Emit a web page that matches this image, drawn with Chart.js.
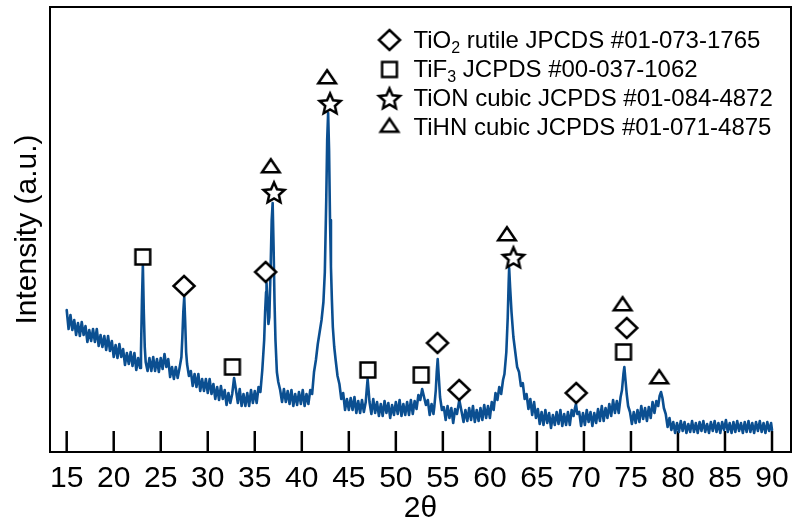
<!DOCTYPE html>
<html><head><meta charset="utf-8">
<script src="https://cdn.jsdelivr.net/npm/chart.js@4.4.1/dist/chart.umd.min.js"></script>
<style>html,body{margin:0;padding:0;background:#fff;}#wrap{width:794px;height:527px;}</style>
</head><body><div id="wrap"><canvas id="c" width="794" height="527"></canvas></div>
<script>
// ---- data ----
const twoTheta = [
15.0,15.2,15.4,15.6,15.8,16.0,16.2,16.4,16.6,16.8,
17.0,17.2,17.4,17.6,17.8,18.0,18.2,18.4,18.6,18.8,
19.0,19.2,19.4,19.6,19.8,20.0,20.2,20.4,20.6,20.8,
21.0,21.2,21.4,21.6,21.8,22.0,22.2,22.4,22.6,22.8,
22.9,23.0,23.1,23.2,23.3,23.4,23.6,23.8,24.0,24.2,
24.4,24.6,24.8,25.0,25.2,25.4,25.6,25.8,26.0,26.2,
26.4,26.6,26.8,27.0,27.2,27.3,27.4,27.5,27.6,27.7,
27.8,28.0,28.2,28.4,28.6,28.8,29.0,29.2,29.4,29.6,
29.8,30.0,30.2,30.4,30.6,30.8,31.0,31.2,31.4,31.6,
31.8,32.0,32.2,32.4,32.6,32.8,33.0,33.2,33.4,33.6,
33.8,34.0,34.2,34.4,34.6,34.8,35.0,35.2,35.4,35.6,
35.8,36.0,36.1,36.2,36.25,36.35,36.45,36.55,36.7,36.8,
36.9,37.0,37.1,37.2,37.35,37.5,37.7,37.9,38.1,38.3,
38.5,38.7,38.9,39.1,39.3,39.5,39.7,39.9,40.1,40.3,
40.5,40.7,40.9,41.1,41.3,41.5,41.7,41.9,42.1,42.3,
42.45,42.6,42.7,42.8,42.9,43.0,43.1,43.2,43.3,43.45,
43.6,43.8,44.0,44.2,44.4,44.6,44.8,45.0,45.2,45.4,
45.6,45.8,46.0,46.2,46.4,46.6,46.8,46.9,47.0,47.1,
47.2,47.4,47.6,47.8,48.0,48.2,48.4,48.6,48.8,49.0,
49.2,49.4,49.6,49.8,50.0,50.2,50.4,50.6,50.8,51.0,
51.2,51.4,51.6,51.8,52.0,52.2,52.4,52.6,52.8,53.0,
53.2,53.4,53.6,53.8,54.0,54.1,54.25,54.35,54.45,54.55,
54.7,54.9,55.1,55.3,55.5,55.7,55.9,56.1,56.3,56.5,
56.75,57.0,57.2,57.4,57.6,57.8,58.0,58.2,58.4,58.6,
58.8,59.0,59.2,59.4,59.6,59.8,60.0,60.2,60.4,60.6,
60.8,61.0,61.2,61.4,61.55,61.75,61.9,62.0,62.05,62.15,
62.3,62.5,62.7,62.9,63.1,63.3,63.5,63.7,63.9,64.1,
64.3,64.5,64.7,64.9,65.1,65.3,65.5,65.7,65.9,66.1,
66.3,66.5,66.7,66.9,67.1,67.3,67.5,67.7,67.9,68.1,
68.3,68.5,68.7,68.9,69.05,69.15,69.3,69.5,69.7,69.9,
70.1,70.3,70.5,70.7,70.9,71.1,71.3,71.5,71.7,71.9,
72.1,72.3,72.5,72.7,72.9,73.1,73.3,73.5,73.7,73.9,
74.05,74.2,74.3,74.4,74.55,74.7,74.9,75.1,75.3,75.5,
75.7,75.9,76.1,76.3,76.5,76.7,76.9,77.1,77.3,77.5,
77.7,77.9,78.05,78.2,78.35,78.5,78.7,78.9,79.1,79.3,
79.5,79.7,79.9,80.1,80.3,80.5,80.7,80.9,81.1,81.3,
81.5,81.7,81.9,82.1,82.3,82.5,82.7,82.9,83.1,83.3,
83.5,83.7,83.9,84.1,84.3,84.5,84.7,84.9,85.1,85.3,
85.5,85.7,85.9,86.1,86.3,86.5,86.7,86.9,87.1,87.3,
87.5,87.7,87.9,88.1,88.3,88.5,88.7,88.9,89.1,89.3,
89.5,89.7,89.9,90.0
];
const intensity = [
142,123,137,122,132,117,129,116,130,117,
126,110,122,111,123,110,123,106,117,105,
116,102,116,101,111,95,107,94,108,95,
103,87,99,88,100,86,99,82,94,84,
100,150,187,140,105,90,81,94,81,95,
81,93,80,94,83,98,85,93,75,85,
73,85,74,84,95,115,140,155,130,100,
88,76,81,66,78,65,78,61,73,61,
73,59,73,58,68,53,65,52,66,53,
62,47,59,49,58,74,62,49,63,46,
58,46,59,46,62,49,61,49,65,60,
82,112,140,160,169,150,128,135,190,232,
249,205,150,112,80,70,62,50,63,50,
61,48,62,46,58,47,60,48,62,46,
58,48,62,58,80,92,108,120,132,150,
180,252,312,339,302,232,185,152,125,105,
92,76,68,53,59,42,53,42,54,42,
55,39,51,39,52,40,50,62,73,62,
50,38,53,39,50,36,48,36,51,39,
49,34,47,37,50,38,52,36,48,37,
50,37,52,38,51,43,57,52,63,55,
47,52,37,48,38,46,62,80,93,78,
55,42,45,32,46,34,44,29,43,38,
52,40,30,42,31,44,32,46,30,42,
31,44,32,47,34,46,34,50,42,59,
52,65,58,72,78,100,135,170,184,165,
140,115,100,85,80,66,69,53,58,43,
53,37,50,34,43,28,40,27,42,29,
39,24,37,27,40,28,42,26,38,27,
40,27,42,36,44,48,38,40,26,39,
27,42,30,40,26,39,29,43,31,46,
31,44,34,48,36,52,39,51,39,55,
62,78,85,74,58,46,40,28,40,29,
42,30,46,33,44,31,45,34,50,39,
51,46,56,60,54,44,38,25,34,22,
30,19,29,20,31,21,30,19,28,20,
31,20,29,19,30,21,31,20,28,19,
30,21,31,20,29,19,30,22,32,20,
29,19,30,20,31,21,29,19,30,20,
31,20,29,19,30,21,31,20,29,19,
30,21,29,22
];
const tickLabels = [15,20,25,30,35,40,45,50,55,60,65,70,75,80,85,90];

// reference-phase markers (2θ, marker height in intensity units)
const rutileX = [27.48, 36.15, 54.43, 56.73, 69.18, 74.55];
const rutileY = [166, 180, 109, 62, 59, 124];
const tif3X = [23.09, 32.62, 47.02, 52.69, 74.21];
const tif3Y = [195, 85, 82, 77, 100];
const tionX = [37.05, 43.01, 62.51];
const tionY = [260, 349, 195];
const tihnX = [36.70, 42.69, 61.81, 74.11, 78.01];
const tihnY = [286, 375, 218, 148, 75];

const legendShapes = ['diamond', 'square', 'star', 'triangle'];
const legendTexts = [
  [['TiO', 0], ['2', 1], [' rutile JPCDS #01-073-1765', 0]],
  [['TiF', 0], ['3', 1], [' JCPDS #00-037-1062', 0]],
  [['TiON cubic JCPDS #01-084-4872', 0]],
  [['TiHN cubic JCPDS #01-071-4875', 0]]
];

// ---- rendering ----
const FONT = '"Liberation Sans", Arial, sans-serif';
const LINE_COLOR = '#0b4f91';

function makeMarker(shape) {
  const c = document.createElement('canvas');
  c.width = 32; c.height = 32;
  const g = c.getContext('2d');
  const cx = 16, cy = 16;
  g.lineWidth = 2.5; g.strokeStyle = '#000'; g.fillStyle = '#fff';
  g.lineJoin = 'miter'; g.miterLimit = 10;
  g.beginPath();
  if (shape === 'diamond') {
    g.moveTo(cx, cy - 10); g.lineTo(cx + 10.5, cy); g.lineTo(cx, cy + 10); g.lineTo(cx - 10.5, cy); g.closePath();
  } else if (shape === 'square') {
    g.rect(cx - 7.4, cy - 7.4, 14.8, 14.8);
  } else if (shape === 'triangle') {
    g.moveTo(cx, cy - 6.8); g.lineTo(cx + 8.8, cy + 6.2); g.lineTo(cx - 8.8, cy + 6.2); g.closePath();
  } else if (shape === 'star') {
    const R = 11, r = 5.1, oy = cy + 1.4;
    for (let i = 0; i < 10; i++) {
      const ang = -Math.PI / 2 + i * Math.PI / 5;
      const rad = i % 2 ? r : R;
      const px = cx + Math.cos(ang) * rad, py = oy + Math.sin(ang) * rad;
      if (i === 0) g.moveTo(px, py); else g.lineTo(px, py);
    }
    g.closePath();
  }
  g.fill(); g.stroke();
  return c;
}
const markers = {};
legendShapes.forEach(s => markers[s] = makeMarker(s));

const pts = (xs, ys) => xs.map((v, i) => ({x: v, y: ys[i]}));

const axisDecor = {
  id: 'axisDecor',
  beforeDatasetsDraw(chart) {
    const {ctx, chartArea: a, scales: {x}} = chart;
    ctx.save();
    ctx.strokeStyle = '#000';
    ctx.lineWidth = 2.5;
    x.ticks.forEach(t => {
      const px = x.getPixelForValue(t.value);
      ctx.beginPath(); ctx.moveTo(px, a.bottom); ctx.lineTo(px, a.bottom - 21); ctx.stroke();
    });
    ctx.restore();
  },
  afterDraw(chart) {
    const {ctx, chartArea: a} = chart;
    ctx.save();
    ctx.strokeStyle = '#000';
    ctx.lineWidth = 2;
    ctx.strokeRect(a.left, a.top, a.right - a.left, a.bottom - a.top);
    // legend
    const mx = a.left + 339.5, tx = a.left + 363.5;
    const rowsY = [40, 69.5, 98, 125.5];
    const baseY = [48.3, 77.3, 106, 135];
    ctx.fillStyle = '#000';
    ctx.textBaseline = 'alphabetic';
    ctx.textAlign = 'left';
    legendShapes.forEach((s, i) => {
      ctx.drawImage(markers[s], mx - 16, rowsY[i] - 16);
      let xx = tx;
      legendTexts[i].forEach(([txt, sub]) => {
        ctx.font = (sub ? '16px ' : '24px ') + FONT;
        ctx.fillText(txt, xx, baseY[i] + (sub ? 5 : 0));
        xx += ctx.measureText(txt).width;
      });
    });
    ctx.restore();
  }
};

const markerDs = (label, xs, ys, shape) => ({
  label, data: pts(xs, ys), showLine: false,
  pointStyle: markers[shape], pointRadius: 12, pointHoverRadius: 12,
  order: 0
});

const zeroPad = s => { s.paddingLeft = 0; s.paddingRight = 0; s.paddingTop = 0; s.paddingBottom = 0; };

new Chart(document.getElementById('c'), {
  type: 'scatter',
  data: {
    datasets: [
      markerDs('TiO2 rutile', rutileX, rutileY, 'diamond'),
      markerDs('TiF3', tif3X, tif3Y, 'square'),
      markerDs('TiON cubic', tionX, tionY, 'star'),
      markerDs('TiHN cubic', tihnX, tihnY, 'triangle'),
      {
        label: 'XRD', data: pts(twoTheta, intensity), showLine: true,
        borderColor: LINE_COLOR, borderWidth: 2.6, pointRadius: 0, tension: 0,
        borderJoinStyle: 'round', borderCapStyle: 'round',
        order: 1
      }
    ]
  },
  options: {
    responsive: false, animation: false, devicePixelRatio: 1,
    layout: {autoPadding: false, padding: {top: 7, right: 3, left: 0, bottom: 0}},
    plugins: {legend: {display: false}, tooltip: {enabled: false}},
    scales: {
      x: {
        type: 'linear', min: 13.225, max: 92.02,
        grid: {display: false, drawTicks: false}, border: {display: false},
        afterBuildTicks: s => { s.ticks = tickLabels.map(v => ({value: v})); },
        afterFit: s => { s.height = 75; zeroPad(s); },
        ticks: {
          autoSkip: false, maxRotation: 0, padding: 9, color: '#000',
          font: {family: FONT, size: 30},
          callback: v => String(v)
        },
        title: {display: true, text: '2θ', color: '#000', font: {family: FONT, size: 30}, padding: {top: 0, bottom: 0}}
      },
      y: {
        min: 0, max: 445,
        grid: {display: false, drawTicks: false}, border: {display: false},
        ticks: {display: false},
        afterFit: s => { s.width = 50; zeroPad(s); },
        title: {display: true, text: 'Intensity (a.u.)', color: '#000', font: {family: FONT, size: 30}, padding: {top: 10, bottom: 10}}
      }
    }
  },
  plugins: [axisDecor]
});
</script>
</body></html>
